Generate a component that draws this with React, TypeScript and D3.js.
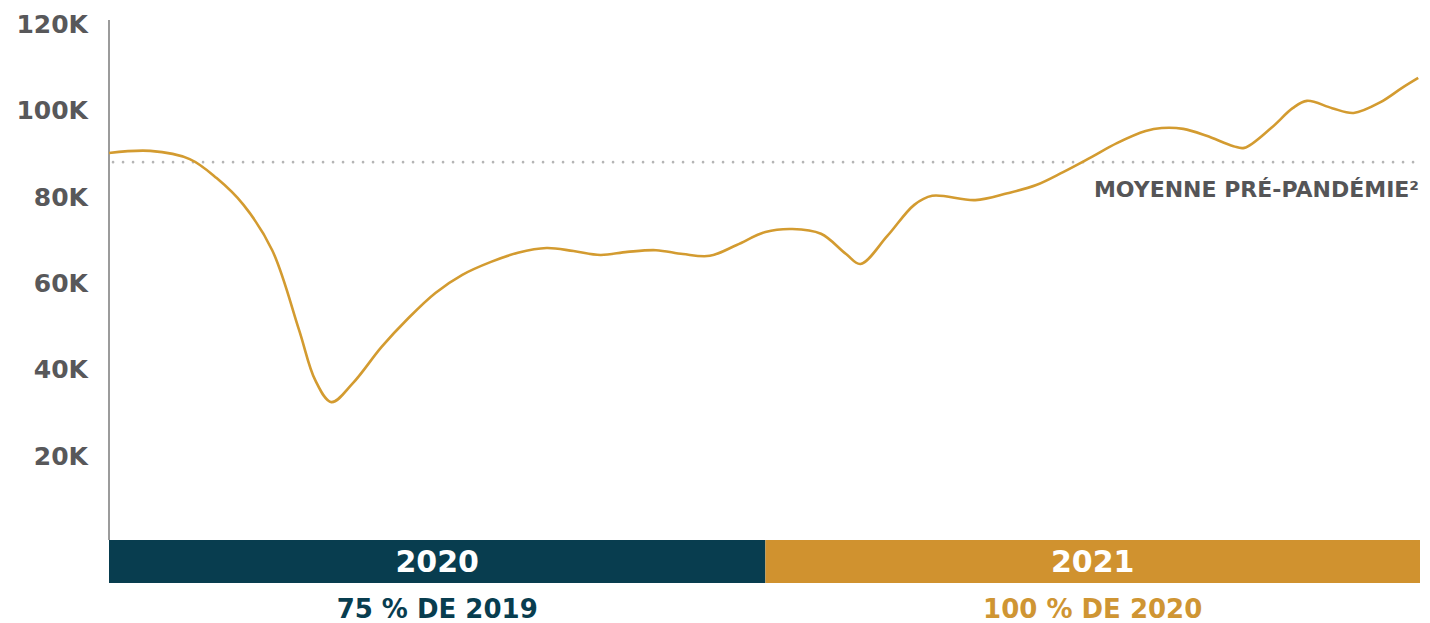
import React from "react";
import * as d3 from "d3";

const dates = [
  "2020-01-01", "2020-01-24", "2020-02-15", "2020-03-01", "2020-03-16", "2020-04-01",
  "2020-04-16", "2020-04-25", "2020-05-04", "2020-05-16", "2020-06-01", "2020-06-16",
  "2020-07-01", "2020-07-16", "2020-08-01", "2020-08-16", "2020-09-01", "2020-09-16",
  "2020-10-01", "2020-10-16", "2020-11-01", "2020-11-16", "2020-12-01", "2020-12-16",
  "2021-01-01", "2021-01-16", "2021-02-01", "2021-02-15", "2021-02-23", "2021-03-10",
  "2021-03-25", "2021-04-04", "2021-04-28", "2021-05-16", "2021-06-01", "2021-06-16",
  "2021-07-01", "2021-07-16", "2021-08-01", "2021-08-10", "2021-08-22", "2021-09-04",
  "2021-09-19", "2021-09-25", "2021-10-10", "2021-10-22", "2021-10-30", "2021-11-13",
  "2021-11-25", "2021-12-10", "2021-12-22", "2021-12-31",
];

const values = [
  90.1, 90.6, 88.7, 84.3, 78.1, 67.6,
  49.1, 37.5, 32.4, 36.8, 45.2, 51.9,
  57.7, 61.9, 64.9, 67.0, 68.1, 67.4,
  66.5, 67.2, 67.6, 66.7, 66.3, 68.8,
  71.8, 72.5, 71.4, 66.7, 64.4, 70.9,
  78.1, 80.2, 79.2, 80.8, 82.7, 85.7,
  89.0, 92.4, 95.2, 95.9, 95.7, 94.1,
  91.7, 91.3, 95.9, 100.5, 102.2, 100.5,
  99.4, 101.9, 105.2, 107.5,
].map((v) => v * 1000);

const yTicks = [20000, 40000, 60000, 80000, 100000, 120000];
const tickLabel = (v: number) => `${v / 1000}K`;

const preAverage = 88000;
const averageLabel = "MOYENNE PRÉ-PANDÉMIE²";

const periods = ["2020", "2021"];
const periodStarts = ["2020-01-01", "2021-01-01"];
const periodEnds = ["2021-01-01", "2022-01-01"];
const periodNotes = ["75 % DE 2019", "100 % DE 2020"];
const periodColors = ["#083d4f", "#d0922f"];
const noteColors = ["#083d4f", "#cf9533"];

const W = 1430;
const H = 623;
const left = 109;
const right = 1420;
const top = 24;
const zeroY = 542;

const parse = d3.timeParse("%Y-%m-%d");

export default function App() {
  const x = d3
    .scaleTime()
    .domain([parse("2020-01-01")!, parse("2022-01-01")!])
    .range([left, right]);
  const y = d3.scaleLinear().domain([0, 120000]).range([zeroY, top]);

  const data = dates.map((d, i) => ({ date: parse(d)!, value: values[i] }));
  const line = d3
    .line<{ date: Date; value: number }>()
    .x((d) => x(d.date))
    .y((d) => y(d.value))
    .curve(d3.curveCatmullRom.alpha(0.5));

  const font = "'DejaVu Sans', sans-serif";
  const barTop = 540;
  const barBottom = 583;

  return (
    <svg
      width={W}
      height={H}
      style={{ position: "absolute", left: 0, top: 0, background: "#fff" }}
      fontFamily={font}
    >
      {yTicks.map((t) => (
        <text
          key={t}
          x={88}
          y={y(t)}
          dy="0.36em"
          textAnchor="end"
          fontSize={25}
          fontWeight="bold"
          fill="#58585a"
        >
          {tickLabel(t)}
        </text>
      ))}
      <line x1={left} x2={left} y1={20} y2={barTop} stroke="#7a7a7a" strokeWidth={1.5} />
      <line
        x1={113}
        x2={1418}
        y1={y(preAverage)}
        y2={y(preAverage)}
        stroke="#b5b5b5"
        strokeWidth={2.6}
        strokeLinecap="round"
        strokeDasharray="0.1 9.9"
      />
      <text
        x={1419}
        y={197}
        textAnchor="end"
        fontSize={22}
        fontWeight="bold"
        fill="#555557"
      >
        {averageLabel}
      </text>
      <path d={line(data) || ""} fill="none" stroke="#d39b30" strokeWidth={2.6} />
      {periods.map((p, i) => {
        const x0 = x(parse(periodStarts[i])!);
        const x1 = Math.min(x(parse(periodEnds[i])!), right);
        const cx = (x0 + x1) / 2;
        return (
          <g key={p}>
            <rect x={x0} y={barTop} width={x1 - x0} height={barBottom - barTop} fill={periodColors[i]} />
            <text
              x={cx}
              y={(barTop + barBottom) / 2}
              dy="0.36em"
              textAnchor="middle"
              fontSize={30}
              fontWeight="bold"
              fill="#fff"
            >
              {p}
            </text>
            <text
              x={cx}
              y={618}
              textAnchor="middle"
              fontSize={26}
              fontWeight="bold"
              fill={noteColors[i]}
            >
              {periodNotes[i]}
            </text>
          </g>
        );
      })}
    </svg>
  );
}
